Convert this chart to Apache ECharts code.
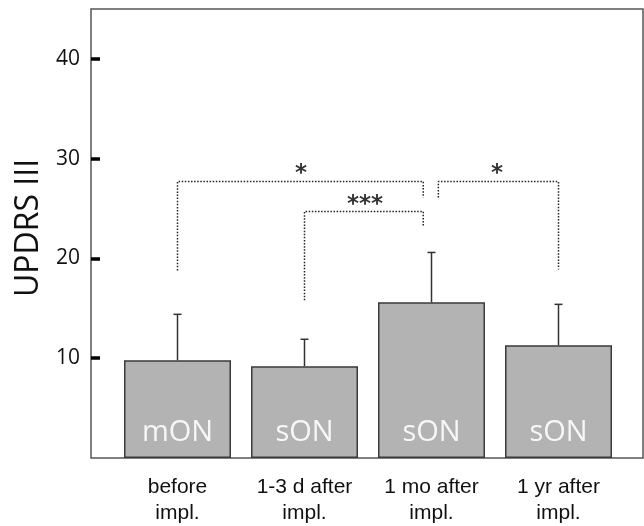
<!DOCTYPE html>
<html>
<head>
<meta charset="utf-8">
<script src="https://cdn.jsdelivr.net/npm/echarts@6/dist/echarts.min.js"></script>
<style>
html,body{margin:0;padding:0;background:#fff;}
#chart{width:644px;height:526px;}
</style>
</head>
<body>
<div id="chart"></div>
<script>
// ---- data ----
const categories = ['before\nimpl.', '1-3 d after\nimpl.', '1 mo after\nimpl.', '1 yr after\nimpl.'];
const states = ['mON', 'sON', 'sON', 'sON'];
const means = [9.8, 9.2, 15.6, 11.3];
const errors = [4.6, 2.7, 5.0, 4.1];
const yTicks = [10, 20, 30, 40];
const yName = 'UPDRS III';
// significance brackets: [category position, value] points
const bracketA = [[0, 18.8], [0, 27.7], [1.935, 27.7], [1.935, 26.1]];
const bracketB = [[1, 15.8], [1, 24.7], [1.935, 24.7], [1.935, 23.2]];
const bracketC = [[2.054, 26.1], [2.054, 27.7], [3, 27.7], [3, 18.9]];
const sigLabels = ['*', '***', '*'];
const sigX = [0.972, 1.476, 2.516];
const sigY = [28.5, 25.4, 28.5];

const chart = echarts.init(document.getElementById('chart'));

const bracketStyle = { color: '#222', width: 1.5, type: [1.5, 1.6] };
function bracketSeries(pts) {
  return {
    type: 'line', xAxisIndex: 2, yAxisIndex: 1, data: pts,
    symbol: 'none', silent: true, lineStyle: bracketStyle, z: 3
  };
}

const option = {
  animation: false,
  grid: [
    { left: 91, right: 1, top: 9, bottom: 68, show: true, borderColor: '#555', borderWidth: 1.5, backgroundColor: 'transparent' },
    { left: 114, right: 22, top: 9, bottom: 68 }
  ],
  xAxis: [
    { type: 'value', gridIndex: 0, show: false, min: 0, max: 1 },
    {
      type: 'category', gridIndex: 1, data: categories,
      axisLine: { show: false }, axisTick: { show: false },
      axisLabel: { margin: 16, fontSize: 21, lineHeight: 26, color: '#111', fontFamily: 'Liberation Sans', interval: 0 }
    },
    { type: 'value', gridIndex: 1, show: false, min: -0.5, max: 3.5 }
  ],
  yAxis: [
    {
      type: 'value', gridIndex: 0, min: 0, max: 45,
      name: yName, nameLocation: 'middle', nameGap: 42,
      nameTextStyle: { fontSize: 32, fontFamily: 'Open Sans', color: '#111', padding: [0, 0, 0, 11] },
      axisLine: { show: false },
      splitLine: { show: false },
      axisTick: { show: true, inside: true, length: 9, lineStyle: { color: '#000', width: 3.5 }, customValues: yTicks },
      axisLabel: { margin: 11, fontSize: 21, color: '#111', fontFamily: 'Open Sans', customValues: yTicks }
    },
    { type: 'value', gridIndex: 1, min: 0, max: 45, show: false }
  ],
  series: [
    {
      type: 'bar', xAxisIndex: 1, yAxisIndex: 1, data: means, barWidth: 107,
      itemStyle: { color: '#b3b3b3', borderColor: '#3a3a3a', borderWidth: 1.5 },
      label: {
        show: true, position: 'insideBottom', distance: 11,
        formatter: p => states[p.dataIndex],
        color: '#f7f7f7', fontSize: 29, fontFamily: 'Open Sans'
      },
      z: 2
    },
    {
      type: 'custom', xAxisIndex: 2, yAxisIndex: 1,
      data: means.map((m, i) => [i, m, errors[i]]),
      renderItem: function (params, api) {
        const x = api.value(0), m = api.value(1), e = api.value(2);
        const p0 = api.coord([x, m]);
        const p1 = api.coord([x, m + e]);
        const st = { stroke: '#333', lineWidth: 1.5 };
        return {
          type: 'group', children: [
            { type: 'line', shape: { x1: p0[0], y1: p0[1], x2: p1[0], y2: p1[1] }, style: st },
            { type: 'line', shape: { x1: p1[0] - 4, y1: p1[1], x2: p1[0] + 4, y2: p1[1] }, style: st }
          ]
        };
      },
      silent: true, z: 1
    },
    bracketSeries(bracketA),
    bracketSeries(bracketB),
    bracketSeries(bracketC),
    {
      type: 'scatter', xAxisIndex: 2, yAxisIndex: 1, symbolSize: 0, silent: true,
      data: sigLabels.map((t, i) => ({ value: [sigX[i], sigY[i]], name: t })),
      label: {
        show: true, position: 'inside', formatter: p => p.name,
        fontSize: 23, fontWeight: 'bold', color: '#000', fontFamily: 'DejaVu Sans'
      },
      z: 4
    }
  ]
};
chart.setOption(option);
</script>
</body>
</html>
